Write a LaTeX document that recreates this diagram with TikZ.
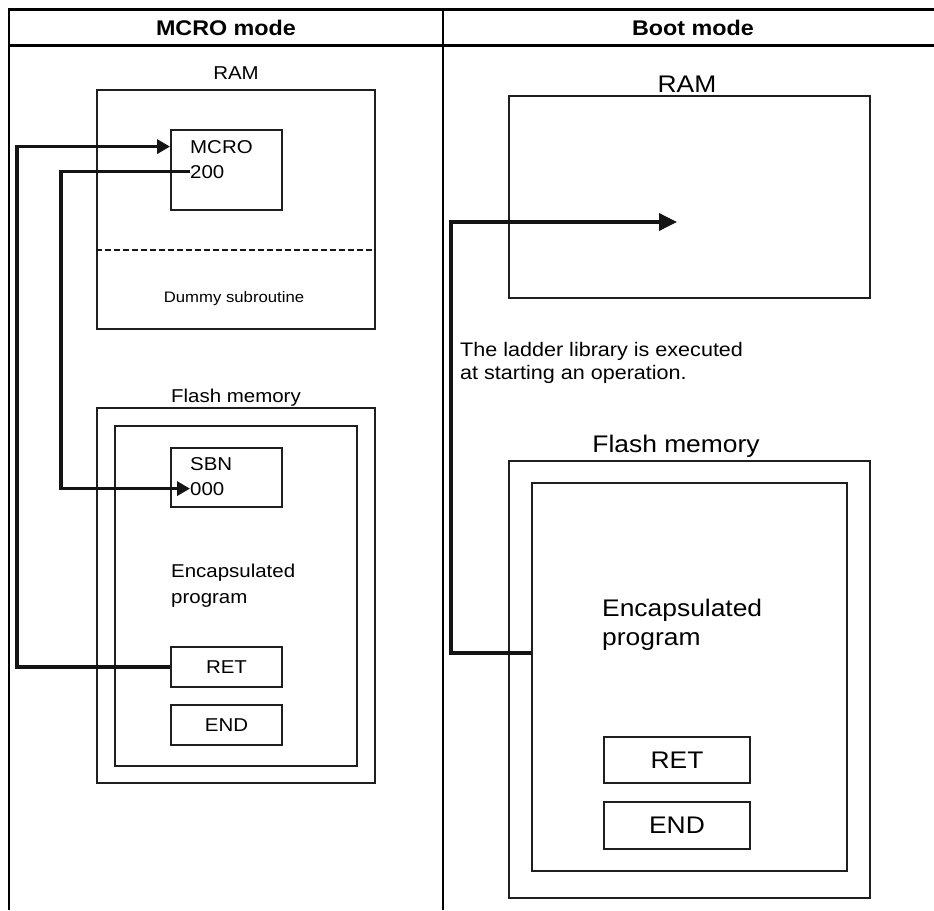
\documentclass[tikz,border=0pt]{standalone}
\usepackage{fontspec}
\setmainfont[FakeStretch=1.1]{Liberation Sans}
\usetikzlibrary{arrows.meta, positioning, calc}

\begin{document}
\begin{tikzpicture}[x=1pt, y=-1pt,
		rule/.style={line width=3pt, black},
		box/.style={draw=black!88, line width=1.9pt, inner sep=0pt},
		hdr/.style={font=\fontsize{21.2}{25}\selectfont\bfseries, inner sep=0pt},
		txtS/.style={font=\fontsize{18.6}{26}\selectfont, inner sep=0pt, align=left},
		txtD/.style={font=\fontsize{15.2}{18}\selectfont, inner sep=0pt},
		txtL/.style={font=\fontsize{24}{29}\selectfont, inner sep=0pt, align=left},
		txtN/.style={font=\fontsize{19.6}{23}\selectfont, inner sep=0pt, align=left},
		flow/.style={line width=3.6pt, black!92},
		arr/.style={-{Triangle[length=13pt, width=14pt]}},
		arrR/.style={-{Triangle[length=18pt, width=17pt]}}]
	\useasboundingbox (0,0) rectangle (934,910);

	\draw[rule] (8,9) -- (934,9);
	\draw[rule] (8,45) -- (934,45);
	\draw[line width=2.7pt] (9,8) -- (9,910);
	\draw[line width=2pt] (443,9) -- (443,910);
	\node[hdr, anchor=base] (hdrL) at (226,35) {MCRO mode};
	\node[hdr, anchor=base] (hdrR) at (693,35) {Boot mode};

	\node[box, minimum width=278pt, minimum height=239pt] (ramL) at (236,209.5) {};
	\node[txtS, anchor=base] (ramLlbl) at (236,79) {RAM};
	\node[box, minimum width=111pt, minimum height=80pt] (mcroBox) at (226.5,170) {};
	\node[txtS, anchor=base west] (mcroTxt) at (190,153) {MCRO};
	\node[txtS, anchor=base west] (n200) at (190,178) {200};
	\draw[line width=2.8pt, black!90, dash pattern=on 6pt off 3pt] (ramL.west |- 0,250) -- (ramL.east |- 0,250);
	\node[txtD, anchor=base] (dummy) at (234,302) {Dummy subroutine};

	\node[txtS, anchor=base] (flashLlbl) at (236,402) {Flash memory};
	\node[box, minimum width=278pt, minimum height=375pt] (flashL) at (236,595.5) {};
	\node[box, minimum width=242pt, minimum height=340pt] (innerL) at (236,596) {};
	\node[box, minimum width=111pt, minimum height=59pt] (sbnBox) at (226.5,477.5) {};
	\node[txtS, anchor=base west] (sbnTxt) at (190,470) {SBN};
	\node[txtS, anchor=base west] (n000) at (190,495) {000};
	\node[txtS, anchor=base west] (encL) at (171,603) {Encapsulated\\program};
	\node[box, txtS, minimum width=111pt, minimum height=40pt] (retL) at (226.5,667) {RET};
	\node[box, txtS, minimum width=111pt, minimum height=40pt] (endL) at (226.5,725) {END};

	\coordinate (busA) at (17,0);
	\coordinate (busB) at (61,0);
	\draw[flow, arr] (retL.west) -| (busA |- mcroTxt) -- (mcroBox.west |- mcroTxt);
	\draw[flow, arr] (n200.west) -| (busB |- n000) -- (n000.west);

	\node[txtL, anchor=base] (ramRlbl) at (687,92) {RAM};
	\node[box, minimum width=361pt, minimum height=202pt] (ramR) at (689.5,197) {};
	\node[txtN, anchor=base west] (note) at (460,379) {The ladder library is executed\\at starting an operation.};
	\node[txtL, anchor=base] (flashRlbl) at (676,452) {Flash memory};
	\node[box, minimum width=361pt, minimum height=437pt] (flashR) at (689.5,679.5) {};
	\node[box, minimum width=315pt, minimum height=388pt] (innerR) at (689.5,677) {};
	\node[txtL, anchor=base west] (encR) at (602,645) {Encapsulated\\program};
	\node[box, txtL, minimum width=146pt, minimum height=46pt] (retR) at (677,760) {RET};
	\node[box, txtL, minimum width=146pt, minimum height=47pt] (endR) at (677,825.5) {END};

	\coordinate (ramTip) at (677,222);
	\coordinate (busR) at (451,0);
	\coordinate (tapR) at (innerR.west |- 0,653);
	\draw[flow, arrR] (tapR) -| (busR |- ramTip) -- (ramTip);
\end{tikzpicture}
\end{document}
